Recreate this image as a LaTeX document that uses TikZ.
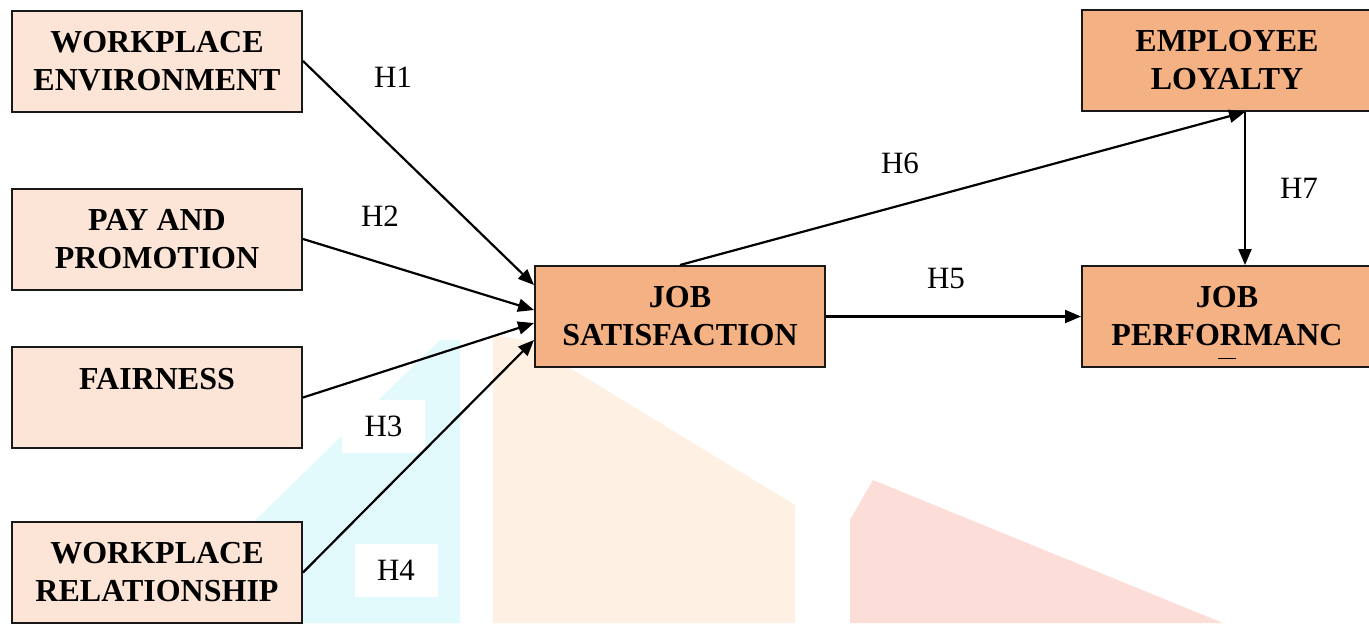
\documentclass[tikz,border=0pt]{standalone}
\usepackage{fontspec}
\setmainfont{Liberation Serif}
\usetikzlibrary{arrows.meta,calc}
\definecolor{lightbox}{HTML}{FCE4D6}
\definecolor{darkbox}{HTML}{F4B183}
\definecolor{wmcyan}{HTML}{E2FAFC}
\definecolor{wmorange}{HTML}{FEF1E4}
\definecolor{wmred}{HTML}{FCDDD8}
\tikzset{
  box/.style={draw=black!90, line width=1pt, minimum width=145pt, minimum height=50.5pt,
    inner sep=0pt, align=center, font=\fontsize{16}{19}\selectfont\bfseries},
  lbox/.style={box, fill=lightbox},
  dbox/.style={box, fill=darkbox},
  hlab/.style={font=\fontsize{15.5}{18}\selectfont, inner sep=0pt},
  hlabbg/.style={hlab, fill=white, minimum width=41.5pt, minimum height=26.5pt},
  conn/.style={line width=1.1pt, -{Triangle[length=8pt,width=6.5pt]}}
}
\begin{document}
\begin{tikzpicture}[x=0.5pt,y=-0.5pt]
\useasboundingbox (0,0) rectangle (1369,623);
\clip (0,0) rectangle (1369,623);
% faint watermark
\fill[wmcyan] (150,623) -- (440,340) -- (460,340) -- (460,623) -- cycle;
\fill[wmorange] (493,623) -- (493,335) -- (524,340) -- (795,505) -- (795,623) -- cycle;
\fill[wmred] (850,623) -- (850,520) -- (873,480) -- (1223,623) -- cycle;
% boxes
\node[lbox] (we) at (157,61) {WORKPLACE\\ENVIRONMENT};
\node[lbox] (pay) at (157,239) {PAY AND\\PROMOTION};
\node[lbox] (fair) at (157,397.5) {FAIRNESS\\\mbox{}};
\node[lbox] (wr) at (157,572.5) {WORKPLACE\\RELATIONSHIP};
\node[dbox] (js) at (680,316.5) {JOB\\SATISFACTION};
\node[dbox] (el) at (1227,60.5) {EMPLOYEE\\LOYALTY};
\node[dbox] (jp) at (1227,316.5) {JOB\\PERFORMANC};
\draw[line width=0.5pt] ($(jp.south)+(-9,-10)$) -- ($(jp.south)+(9,-10)$);
% labels
\node[hlab] (h1) at (393,77) {H1};
\node[hlab] (h2) at (380,216) {H2};
\node[hlabbg] (h3) at (383.5,426.5) {H3};
\node[hlabbg] (h4) at (396,570.5) {H4};
\node[hlab] (h5) at (946,278) {H5};
\node[hlab] (h6) at (900,163) {H6};
\node[hlab] (h7) at (1299,188) {H7};
% connectors
\coordinate (elp) at ($(el.south)+(18,0)$);
\coordinate (jpp) at ($(jp.north)+(18,0)$);
\draw[conn] (we.east) -- ($(js.west)+(0,-31.5)$);
\draw[conn] (pay.east) -- ($(js.west)+(0,-6.5)$);
\draw[conn] (fair.east) -- ($(js.west)+(0,6.5)$);
\draw[conn] (wr.east) -- ($(js.west)+(0,23.5)$);
\draw[conn] (js.east) -- (js.east -| jp.west);
\draw[conn] (js.north) -- (elp);
\draw[conn] (elp) -- (jpp);
\end{tikzpicture}
\end{document}
